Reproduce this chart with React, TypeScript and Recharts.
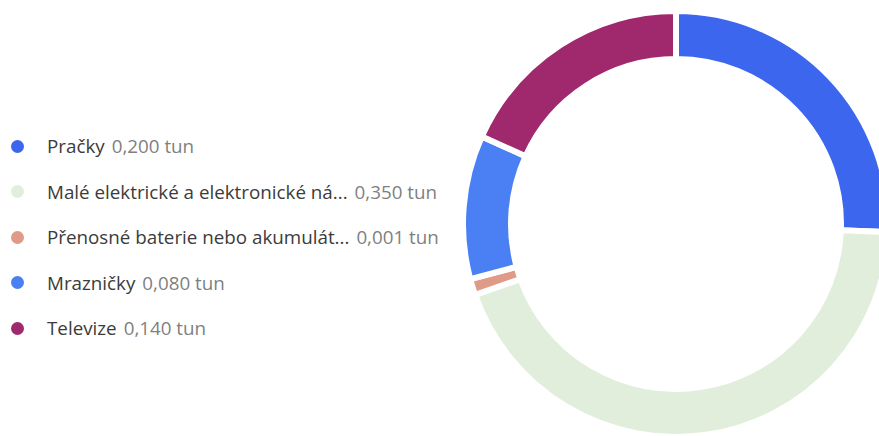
import React from "react";
import { PieChart, Pie, Cell, Legend } from "recharts";

const categories = [
  "Pračky",
  "Malé elektrické a elektronické ná...",
  "Přenosné baterie nebo akumulát...",
  "Mrazničky",
  "Televize",
];
const values = [0.2, 0.35, 0.001, 0.08, 0.14];
const valueLabels = ["0,200 tun", "0,350 tun", "0,001 tun", "0,080 tun", "0,140 tun"];
const colors = ["#3C66EE", "#E2EEDC", "#E09A88", "#4A80F4", "#A0296E"];

const data = categories.map((name, i) => ({ name, value: values[i], label: valueLabels[i] }));

const FONT = "'Open Sans', 'Noto Sans', sans-serif";

const LegendContent = () => {
  return (
    <div style={{ fontFamily: FONT, fontSize: 18.8 }}>
      {categories.map((name, i) => (
        <div
          key={name}
          style={{
            position: "absolute",
            left: 0,
            top: 146 + i * 45.5 - 14,
            height: 28,
            display: "flex",
            alignItems: "center",
            whiteSpace: "nowrap",
          }}
        >
          <span
            style={{
              display: "inline-block",
              width: 13,
              height: 13,
              borderRadius: "50%",
              background: colors[i],
              marginLeft: 11,
              marginRight: 23,
            }}
          />
          <span style={{ color: "#3b3b3b" }}>{name}</span>
          <span style={{ color: "#7f7f7f", marginLeft: 7 }}>{valueLabels[i]}</span>
        </div>
      ))}
    </div>
  );
};

export default function App() {
  return (
    <div
      style={{
        position: "absolute",
        left: 0,
        top: 0,
        width: 879,
        height: 436,
        overflow: "hidden",
        background: "#fff",
      }}
    >
      <PieChart width={879} height={436} margin={{ top: 0, right: 0, bottom: 0, left: 0 }}>
        <Pie
          data={data}
          dataKey="value"
          nameKey="name"
          cx={676}
          cy={224}
          innerRadius={165}
          outerRadius={213}
          startAngle={90}
          endAngle={-270}
          minAngle={4}
          stroke="#ffffff"
          strokeWidth={6}
          isAnimationActive={false}
        >
          {data.map((d, i) => (
            <Cell key={d.name} fill={colors[i]} />
          ))}
        </Pie>
        <Legend
          content={<LegendContent />}
          wrapperStyle={{ position: "absolute", left: 0, top: 0, width: 460, height: 436 }}
        />
      </PieChart>
    </div>
  );
}
